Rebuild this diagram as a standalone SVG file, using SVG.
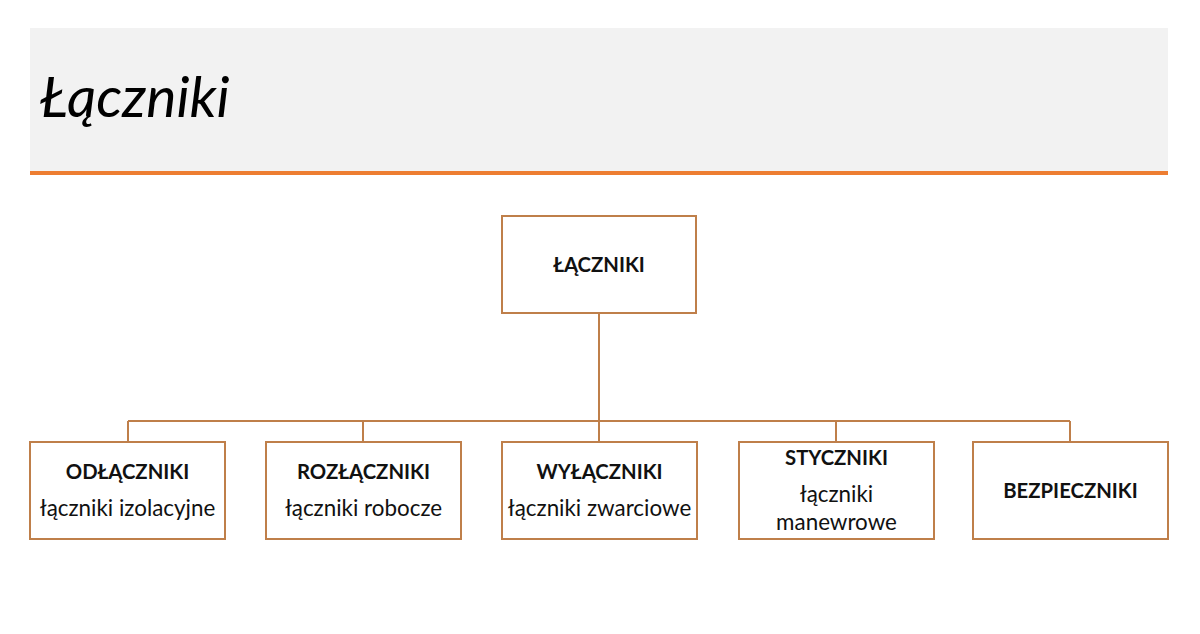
<svg xmlns="http://www.w3.org/2000/svg" width="1200" height="634" viewBox="0 0 1200 634">
<style>
.box{fill:#fff;stroke:#BF7F4A;stroke-width:2}
.ln{fill:none;stroke:#BF7F4A;stroke-width:2}
.b{font-family:Lato,"Liberation Sans",sans-serif;font-weight:bold;font-size:20.3px;fill:#111;text-anchor:middle}
.r{font-family:Lato,"Liberation Sans",sans-serif;font-size:22.4px;fill:#111;text-anchor:middle}
</style>
<rect width="1200" height="634" fill="#fff"/>
<g id="header">
<rect x="30" y="28" width="1138" height="144" fill="#F2F2F2"/>
<rect x="30" y="171" width="1138" height="4" fill="#ED7D31"/>
<text x="40" y="117" font-family="Lato,'Liberation Sans',sans-serif" font-style="italic" font-size="57" fill="#000">Łączniki</text>
</g>
<g id="connectors">
<path class="ln" d="M599 313V421M128 421H1070M128 421V442M363 421V442M599 421V442M836 421V442M1070 421V442"/>
</g>
<g id="root"><rect class="box" x="502" y="216" width="194" height="97"/><text class="b" x="599" y="272">ŁĄCZNIKI</text></g>
<g id="n1"><rect class="box" x="30" y="442" width="195" height="97"/><text class="b" x="127.5" y="479">ODŁĄCZNIKI</text><text class="r" x="127.5" y="516">łączniki izolacyjne</text></g>
<g id="n2"><rect class="box" x="266" y="442" width="195" height="97"/><text class="b" x="363.5" y="479">ROZŁĄCZNIKI</text><text class="r" x="363.5" y="516">łączniki robocze</text></g>
<g id="n3"><rect class="box" x="502" y="442" width="195" height="97"/><text class="b" x="599.5" y="479">WYŁĄCZNIKI</text><text class="r" x="599.5" y="516">łączniki zwarciowe</text></g>
<g id="n4"><rect class="box" x="739" y="442" width="195" height="97"/><text class="b" x="836.5" y="465">STYCZNIKI</text><text class="r" x="836.5" y="502">łączniki</text><text class="r" x="836.5" y="530">manewrowe</text></g>
<g id="n5"><rect class="box" x="973" y="442" width="195" height="97"/><text class="b" x="1070.5" y="498">BEZPIECZNIKI</text></g>
</svg>
